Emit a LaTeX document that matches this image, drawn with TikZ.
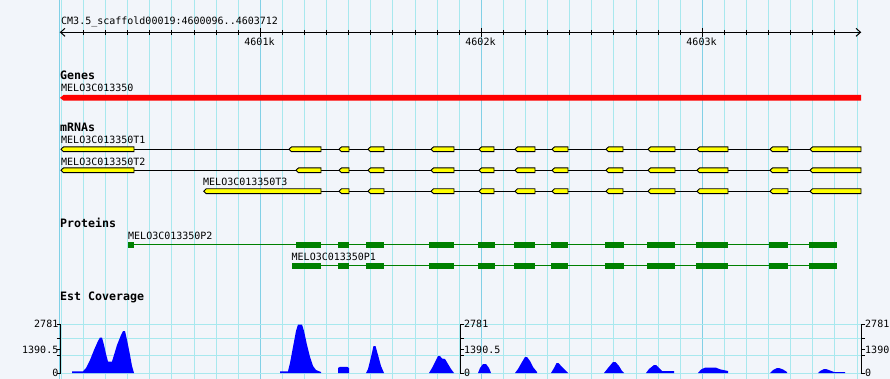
\documentclass[tikz,border=0pt]{standalone}
\usepackage{fontspec}
\newfontfamily\labfont{DejaVu Sans Mono}
\definecolor{bgc}{RGB}{242,245,250}
\definecolor{gridc}{RGB}{168,232,238}
\definecolor{majc}{RGB}{130,208,230}
\definecolor{exonc}{RGB}{255,255,0}
\definecolor{protc}{RGB}{0,128,0}
\definecolor{covc}{RGB}{0,0,255}
\definecolor{genec}{RGB}{255,0,0}
\tikzset{
  lbl/.style={font=\labfont\fontsize{10}{12}\selectfont, inner sep=0pt, anchor=base west},
  hdr/.style={font=\labfont\bfseries\fontsize{11.6}{13}\selectfont, inner sep=0pt, anchor=base west},
  gridline/.style={draw=gridc, line width=1pt},
  majline/.style={draw=majc, line width=1pt},
  rul/.style={draw=black, line width=1pt},
  exon/.style={fill=exonc, draw=black, line width=0.9pt},
  intron/.style={draw=black, line width=1pt},
  pbox/.style={fill=protc},
  pline/.style={draw=protc, line width=1pt},
  cov/.style={fill=covc},
  axis/.style={draw=black, line width=1pt}
}
\newcommand\exonbox[3]{\filldraw[exon] (#1,#3) -- ({#1+2.5},{#3-2.4}) -- (#2,{#3-2.4}) -- (#2,{#3+2.4}) -- ({#1+2.5},{#3+2.4}) -- cycle;}
\newcommand\protbox[3]{\fill[pbox] (#1,{#3-2.9}) rectangle (#2,{#3+2.9});}
\def\commonex{339/349,368/384,431/454,479/494,515/535,552/568,606/623,648/675,697/728,770/788,810/861}
\def\protex{338/349,366/384,429/454,478/495,514/535,551/568,605/624,647/675,696/728,769/788,809/837}
\begin{document}
\begin{tikzpicture}[x=1pt,y=-1pt]
\useasboundingbox (0,0) rectangle (890,379);
\fill[bgc] (0,0) rectangle (890,379);
% vertical grid
\foreach \k in {-9,...,27} {\draw[gridline] ({260.3+\k*22.1},0) -- ({260.3+\k*22.1},379);}
\foreach \k in {0,10,20} {\draw[majline] ({260.3+\k*22.1},0) -- ({260.3+\k*22.1},379);}
\draw[majline] (59.5,0) -- (59.5,379);
% horizontal coverage grid
\foreach \y in {324.3,338.7,355.7,373} {\draw[gridline] (60,\y) -- (861,\y);}
% ruler
\node[lbl] (title) at (61,25) {CM3.5\_scaffold00019:4600096..4603712};
\coordinate (rl) at (60.5,32.3);
\coordinate (rr) at (860.5,32.3);
\draw[rul] (rl) -- (rr);
\draw[rul] (65,28.3) -- (rl) -- (65,36.3);
\draw[rul] (856,28.3) -- (rr) -- (856,36.3);
\foreach \k in {-8,...,26} {\draw[rul] ({260.3+\k*22.1},30) -- ({260.3+\k*22.1},34.7);}
\foreach \k in {0,10,20} {\draw[rul] ({260.3+\k*22.1},28) -- ({260.3+\k*22.1},36.7);}
\node[lbl, anchor=base] (k1) at (259.5,45.7) {4601k};
\node[lbl, anchor=base] (k2) at (480.5,45.7) {4602k};
\node[lbl, anchor=base] (k3) at (701.5,45.7) {4603k};
% genes
\node[hdr] (genes) at (60,80) {Genes};
\node[lbl] (gname) at (61,91.7) {MELO3C013350};
\fill[genec] (60,97.8) -- (63.5,95) -- (861,95) -- (861,100.7) -- (63.5,100.7) -- cycle;
% mRNAs
\node[hdr] (mrnas) at (60,132) {mRNAs};
\node[lbl] (t1) at (61,144) {MELO3C013350T1};
\node[lbl] (t2) at (61,165.7) {MELO3C013350T2};
\node[lbl] (t3) at (203,186) {MELO3C013350T3};
\draw[intron] (61,149.3) -- (861,149.3);
\exonbox{61}{134}{149.3}
\exonbox{289}{321}{149.3}
\foreach \a/\b in \commonex {\exonbox{\a}{\b}{149.3}}
\draw[intron] (61,170.3) -- (861,170.3);
\exonbox{61}{134}{170.3}
\exonbox{296}{321}{170.3}
\foreach \a/\b in \commonex {\exonbox{\a}{\b}{170.3}}
\draw[intron] (203.7,191.2) -- (861,191.2);
\exonbox{203.7}{321}{191.2}
\foreach \a/\b in \commonex {\exonbox{\a}{\b}{191.2}}
% proteins
\node[hdr] (prot) at (60,227.3) {Proteins};
\node[lbl] (p2) at (128,239) {MELO3C013350P2};
\node[lbl] (p1) at (291.5,260) {MELO3C013350P1};
\draw[pline] (128,244.6) -- (837,244.6);
\protbox{128}{134}{244.8}
\protbox{296}{321}{244.8}
\foreach \a/\b in \protex {\protbox{\a}{\b}{244.8}}
\draw[pline] (292,265.6) -- (837,265.6);
\protbox{292}{321}{265.8}
\foreach \a/\b in \protex {\protbox{\a}{\b}{265.8}}
% coverage
\node[hdr] (est) at (60,300.7) {Est Coverage};
\fill[cov] (72,373) -- (72,371.3) -- (83,371.3) -- (86,368) -- (90,360) -- (94,350) -- (98,341) -- (100,337.5) -- (102,337.5) -- (104,345) -- (106,354) -- (108,361.5) -- (112,361.5) -- (114,355) -- (117,345) -- (121,335) -- (123,331) -- (125,331) -- (127,340) -- (130,355) -- (132,366) -- (134,373) -- cycle;
\fill[cov] (280,373) -- (280,371.3) -- (288,371.3) -- (290,363) -- (293,347) -- (296,331) -- (298,324.5) -- (302,324.5) -- (304,331) -- (307,345) -- (310,357) -- (313,366) -- (316,370) -- (321,372) -- (321,373) -- cycle;
\fill[cov] (338,373) -- (338,368) -- (340,366.8) -- (347,366.8) -- (349,368) -- (349,373) -- cycle;
\fill[cov] (366,373) -- (368,369) -- (371,357) -- (373.5,346) -- (375.5,346) -- (378,355) -- (381,366) -- (384,373) -- cycle;
\fill[cov] (429,373) -- (432,368) -- (436,360) -- (438,356) -- (440,356) -- (442,358.5) -- (445,359) -- (448,364) -- (451,369) -- (454,373) -- cycle;
\fill[cov] (478,373) -- (480,368) -- (483,364) -- (486,364) -- (489,368) -- (491,373) -- cycle;
\fill[cov] (515,373) -- (518,369) -- (522,362) -- (525,357) -- (527,357) -- (530,361) -- (533,367) -- (537,372) -- (537,373) -- cycle;
\fill[cov] (551,373) -- (554,368) -- (556.5,363) -- (558.5,363) -- (562,367) -- (566,371) -- (568,373) -- cycle;
\fill[cov] (604,373) -- (608,368) -- (613,362) -- (615.5,362) -- (619,366) -- (622,371) -- (624,373) -- cycle;
\fill[cov] (646,373) -- (649,369) -- (654,365) -- (656,365) -- (659,368) -- (662,371) -- (674,371) -- (674,373) -- cycle;
\fill[cov] (698,373) -- (701,369.5) -- (705,367.7) -- (716,367.7) -- (720,369.3) -- (728,371) -- (728,373) -- cycle;
\fill[cov] (770,373) -- (773,370) -- (777,368) -- (779,368) -- (783,369.5) -- (787,372) -- (787,373) -- cycle;
\fill[cov] (818,373) -- (820,371) -- (824,369) -- (826,369) -- (830,370.5) -- (834,372) -- (845,372) -- (845,373) -- cycle;
% coverage axes
\foreach \ax in {60,460,861} {\draw[axis] (\ax,324.3) -- (\ax,373.5);}
\foreach \y in {324.3,338.7,349,355.7,373} {
  \draw[axis] (56.5,\y) -- (60,\y);
  \draw[axis] (460,\y) -- (463.5,\y);
  \draw[axis] (861,\y) -- (864.5,\y);
}
\node[lbl, anchor=base east] (la) at (58.5,327.7) {2781};
\node[lbl, anchor=base east] (lb) at (58.5,353.3) {1390.5};
\node[lbl, anchor=base east] (lc) at (58.5,376.3) {0};
\node[lbl] (ma) at (464,327.7) {2781};
\node[lbl] (mb) at (464,353.3) {1390.5};
\node[lbl] (mc) at (464,376.3) {0};
\node[lbl] (ra) at (865,327.7) {2781};
\node[lbl] (rb) at (865,353.3) {1390};
\node[lbl] (rc) at (865,376.3) {0};
\end{tikzpicture}
\end{document}
